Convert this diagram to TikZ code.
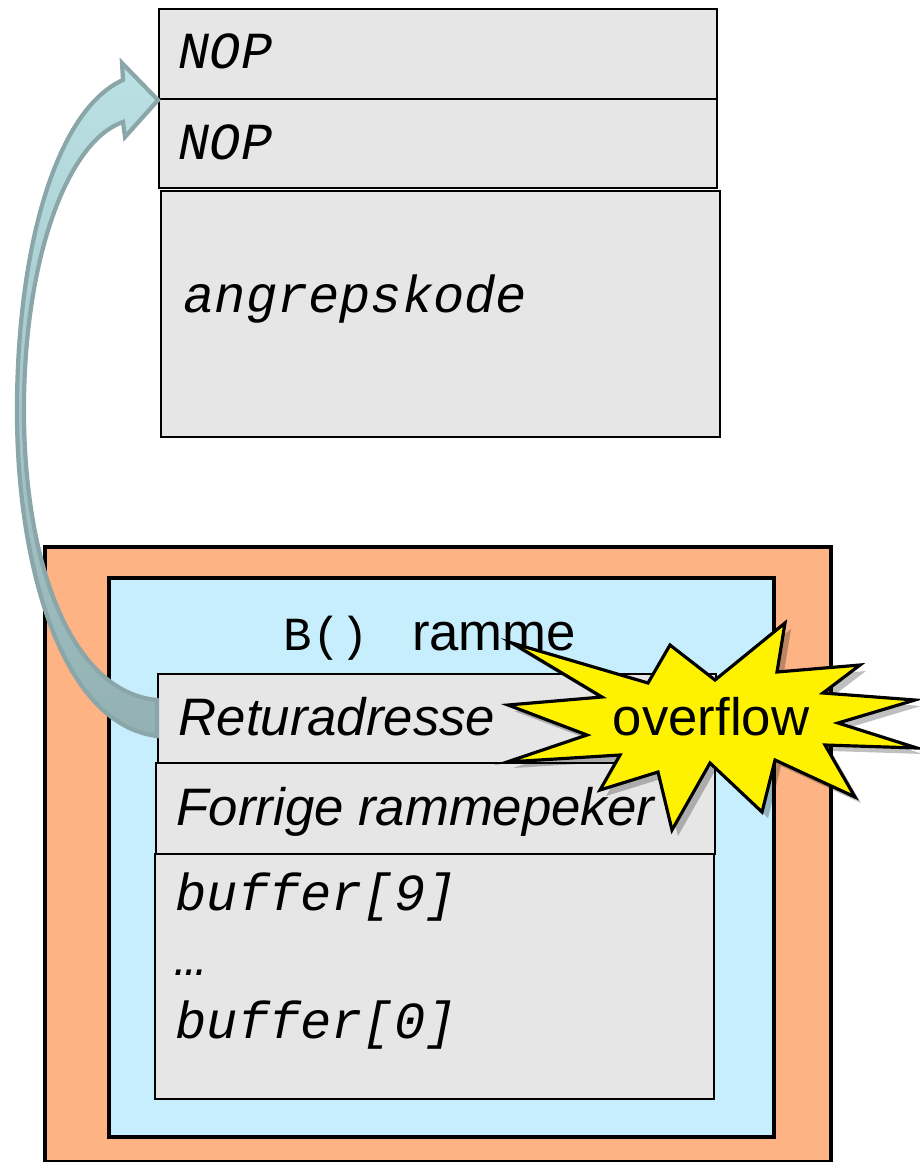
\documentclass[tikz,border=0pt]{standalone}
\usepackage{fontspec}
\setmainfont{Liberation Sans}
\setmonofont{Liberation Mono}
\usetikzlibrary{positioning}

\definecolor{framefill}{HTML}{FDB384}
\definecolor{rammefill}{HTML}{C6EEFC}
\definecolor{cellfill}{HTML}{E6E6E6}
\definecolor{arrowtop}{HTML}{BAE1E4}
\definecolor{arrowbot}{HTML}{93B1B3}
\definecolor{arrowedge}{HTML}{8AA6A8}

\tikzset{
  cell/.style={draw, fill=cellfill, line width=0.6pt, minimum width=55.8mm, inner sep=0pt, anchor=north west},
  outerbox/.style={draw, line width=1.2pt, inner sep=0pt, anchor=north west},
  monotext/.style={anchor=base west, inner sep=0pt, font=\fontsize{14.8}{17}\selectfont\ttfamily\itshape},
  sanstext/.style={anchor=base west, inner sep=0pt, font=\fontsize{15}{18}\selectfont\itshape},
  burst/.style={fill=yellow, draw=black, line width=0.9pt, line join=miter},
  burstshadow/.style={fill=black, fill opacity=0.25, draw=none},
}

\begin{document}
\begin{tikzpicture}[x=0.1mm, y=-0.1mm]
\useasboundingbox (0,0) rectangle (919,1162);

% injected code
\node[cell, minimum height=9mm] (nop1) at (158,8) {};
\node[cell, minimum height=8.9mm] (nop2) at (158,98) {};
\node[cell, minimum width=55.9mm, minimum height=24.6mm] (angrep) at (160,190) {};
\node[monotext] (nop1txt) at (178,68) {NOP};
\node[monotext] (nop2txt) at (178,159) {NOP};
\node[monotext] (angreptxt) at (183,312) {angrepskode};

% stack frame
\node[outerbox, fill=framefill, minimum width=78.6mm, minimum height=61.5mm] (frame) at (43,545) {};
\node[outerbox, fill=rammefill, minimum width=66.5mm, minimum height=55.9mm] (ramme) at (107,576) {};
\node[anchor=base west, inner sep=0pt, font=\fontsize{15}{18}\selectfont] (rammetxt) at (283,650) {{\fontsize{13.5}{16}\selectfont\ttfamily B()}\hspace{4.3mm}ramme};
\node[cell, minimum height=8.9mm] (ret) at (157,673) {};
\node[cell, minimum width=55.9mm, minimum height=9.1mm] (forrige) at (155,762) {};
\node[cell, minimum width=55.9mm, minimum height=24.5mm] (buf) at (154,853) {};
\node[sanstext] (rettxt) at (178,735) {Returadresse};
\node[sanstext] (forrigetxt) at (176,825) {Forrige rammepeker};
\node[monotext] (buf9) at (175,910) {buffer[9]};
\node[monotext] (bufdots) at (175,975) {…};
\node[monotext] (buf0) at (175,1038) {buffer[0]};

% jump back to the NOP slide
\coordinate (tail) at (ret.west);
\coordinate (tip) at (nop1.south west);
\draw[arrowedge, line width=1.2pt, top color=arrowtop, bottom color=arrowbot, line join=miter]
  (157,736) .. controls (60,724) and (15,560) .. (17,400)
  .. controls (19,235) and (60,108) .. (123,80) -- (122,63) -- (tip) -- (125,137) -- (123,122)
  .. controls (70,140) and (26,250) .. (24,400)
  .. controls (22,560) and (70,692) .. (157,700) -- cycle;

% overflow burst
\foreach \off/\sty in {6/burstshadow, 0/burst}
  \path[\sty, shift={(\off,\off)}] (512,643) -- (648,683) -- (670,645) -- (715,680) -- (785,623) -- (777,672)
    -- (860,665) -- (823,693) -- (915,700) -- (838,723) -- (917,748) -- (825,745)
    -- (855,797) -- (775,760) -- (762,812) -- (710,763) -- (672,830) -- (658,772)
    -- (600,790) -- (620,755) -- (507,762) -- (587,735) -- (508,705) -- (602,697) -- cycle;
\node[anchor=base, inner sep=0pt, font=\fontsize{15}{18}\selectfont] (overflow) at (711,735) {overflow};
\end{tikzpicture}
\end{document}
